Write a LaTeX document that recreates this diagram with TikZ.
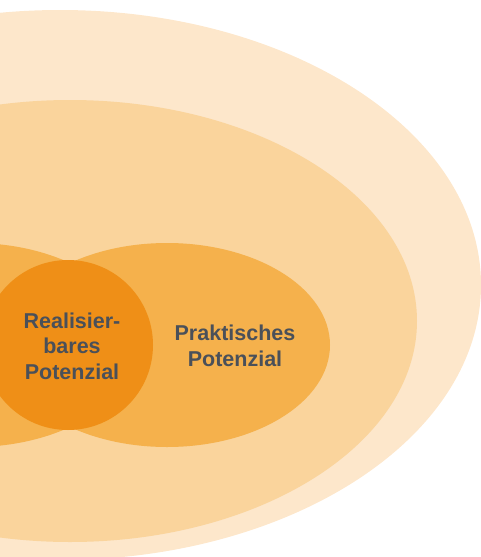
\documentclass[tikz,border=0pt]{standalone}
\usepackage{fontspec}
\setmainfont{Liberation Sans}
\definecolor{theoretisch}{HTML}{FDE7CB}
\definecolor{technisch}{HTML}{FAD49C}
\definecolor{praktisch}{HTML}{F5B14C}
\definecolor{realisierbar}{HTML}{EF8F17}
\definecolor{schrift}{HTML}{4A5059}
\tikzset{
	potlabel/.style={text=schrift, align=center, font=\bfseries\fontsize{21.5}{25.5}\selectfont}
}
\begin{document}
\begin{tikzpicture}[x=1pt, y=-1pt]
	\useasboundingbox (0, 0) rectangle (481, 557);
	\clip (0, 0) rectangle (481, 557);
	\fill[theoretisch] (60, 285) ellipse [x radius=421, y radius=275];
	\fill[technisch] (70, 321) ellipse [x radius=347, y radius=221];
	\fill[praktisch] (-27, 345) ellipse [x radius=163, y radius=102];
	\fill[praktisch] (167, 345) ellipse [x radius=163, y radius=102];
	\fill[realisierbar] (68, 345) circle [radius=85];
	\node[potlabel] at (72, 346) (realisierbar) {Realisier-\\bares\\Potenzial};
	\node[potlabel] at (235, 346) (praktisch) {Praktisches\\Potenzial};
\end{tikzpicture}
\end{document}
